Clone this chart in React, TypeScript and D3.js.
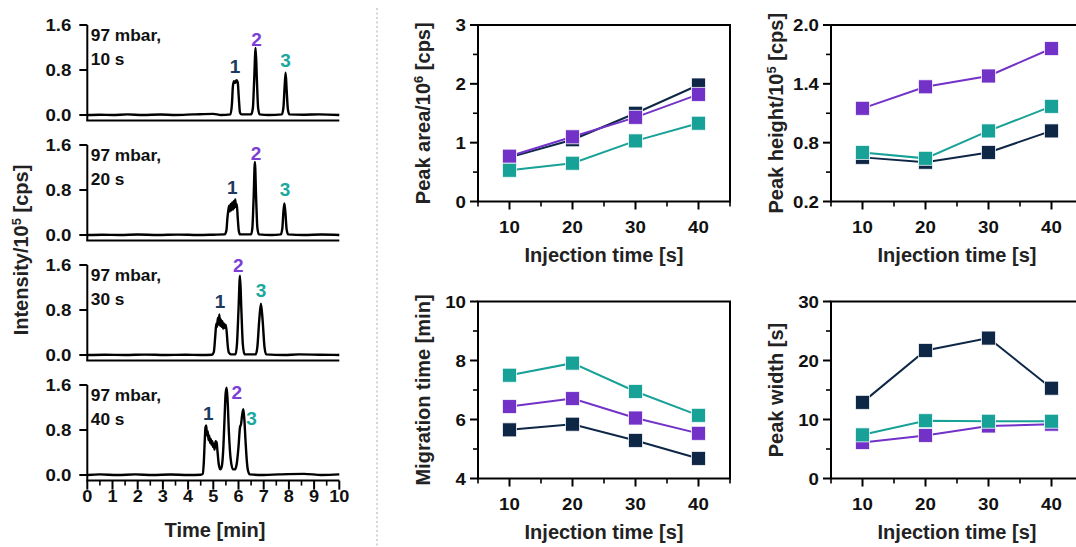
import React from "react";
import * as d3 from "d3";

// ---------- Chromatogram data (time [min], intensity /1e5 cps) ----------
const timeTicks = [0, 1, 2, 3, 4, 5, 6, 7, 8, 9, 10];
const timeMinorTicks = [0.5, 1.5, 2.5, 3.5, 4.5, 5.5, 6.5, 7.5, 8.5, 9.5];
const intensityTicks = [0, 0.8, 1.6];
const intensityTickLabels = ["0.0", "0.8", "1.6"];
const pressureLabel = "97 mbar,";
const injectionLabels = ["10 s", "20 s", "30 s", "40 s"];
const peakNames = ["1", "2", "3"];

const chrom10s: [number, number][] = [
  [0, 0], [0.5, 0.005], [1, 0], [1.6, 0.01], [2.2, 0], [2.9, 0.008], [3.5, 0], [4.2, 0.01],
  [5.0, 0.02], [5.3, 0], [5.68, 0.01], [5.74, 0.2], [5.78, 0.52], [5.82, 0.6], [5.87, 0.57],
  [5.92, 0.62], [5.97, 0.58], [6.01, 0.32], [6.06, 0.04], [6.12, 0.01], [6.5, 0.01],
  [6.57, 0.12], [6.62, 0.6], [6.68, 1.19], [6.73, 0.62], [6.78, 0.12], [6.84, 0.01], [7.2, 0],
  [7.72, 0.01], [7.78, 0.12], [7.83, 0.5], [7.87, 0.75], [7.91, 0.45], [7.96, 0.1],
  [8.02, 0.01], [8.6, 0.005], [9.2, 0.01], [10, 0],
];
const chrom20s: [number, number][] = [
  [0, 0], [0.6, 0.005], [1.3, 0], [2, 0.008], [2.8, 0], [3.6, 0.006], [4.4, 0], [5.0, 0.005],
  [5.45, 0.01], [5.52, 0.08], [5.56, 0.3], [5.6, 0.45], [5.63, 0.52], [5.66, 0.42], [5.69, 0.55],
  [5.72, 0.44], [5.75, 0.58], [5.78, 0.45], [5.81, 0.6], [5.84, 0.48], [5.87, 0.63], [5.9, 0.5],
  [5.93, 0.55], [5.97, 0.3], [6.01, 0.08], [6.06, 0.01], [6.5, 0.01], [6.55, 0.12], [6.6, 0.65],
  [6.65, 1.3], [6.7, 0.65], [6.75, 0.12], [6.81, 0.01], [7.3, 0], [7.68, 0.01], [7.74, 0.12],
  [7.78, 0.4], [7.82, 0.56], [7.86, 0.4], [7.91, 0.1], [7.97, 0.01], [8.6, 0], [9.3, 0.008], [10, 0],
];
const chrom30s: [number, number][] = [
  [0, 0], [0.7, 0.004], [1.5, 0], [2.3, 0.006], [3.1, 0], [3.9, 0.005], [4.5, 0], [4.95, 0.005],
  [5.02, 0.05], [5.08, 0.35], [5.12, 0.56], [5.15, 0.5], [5.18, 0.66], [5.21, 0.54], [5.24, 0.72],
  [5.27, 0.52], [5.3, 0.63], [5.33, 0.5], [5.36, 0.6], [5.39, 0.47], [5.42, 0.56], [5.45, 0.48],
  [5.49, 0.54], [5.53, 0.42], [5.57, 0.18], [5.62, 0.04], [5.7, 0.01], [5.88, 0.01], [5.94, 0.2],
  [6.0, 0.8], [6.06, 1.41], [6.11, 0.85], [6.17, 0.2], [6.24, 0.01], [6.68, 0.01], [6.75, 0.15],
  [6.82, 0.6], [6.89, 0.91], [6.96, 0.6], [7.03, 0.15], [7.1, 0.01], [7.8, 0], [8.4, 0.01],
  [9.2, 0.005], [10, 0],
];
const chrom40s: [number, number][] = [
  [0, 0], [0.5, 0.01], [1.2, 0], [1.9, 0.01], [2.6, 0], [3.3, 0.008], [4.0, 0], [4.5, 0.005],
  [4.58, 0.02], [4.62, 0.2], [4.66, 0.6], [4.69, 0.85], [4.72, 0.88], [4.75, 0.7], [4.78, 0.78],
  [4.81, 0.62], [4.84, 0.7], [4.87, 0.57], [4.9, 0.64], [4.93, 0.54], [4.96, 0.6], [4.99, 0.5],
  [5.02, 0.55], [5.05, 0.45], [5.09, 0.6], [5.13, 0.58], [5.17, 0.4], [5.22, 0.18], [5.28, 0.1],
  [5.34, 0.16], [5.4, 0.5], [5.45, 1.05], [5.49, 1.45], [5.53, 1.55], [5.57, 1.3], [5.62, 0.75],
  [5.69, 0.28], [5.78, 0.1], [5.86, 0.1], [5.93, 0.2], [6.0, 0.5], [6.06, 0.85], [6.1, 0.9],
  [6.14, 1.05], [6.19, 1.17], [6.23, 1.0], [6.28, 0.6], [6.33, 0.25], [6.38, 0.07], [6.45, 0.01],
  [7.0, 0], [7.6, 0.01], [8.6, 0.02], [9.3, 0], [10, 0.01],
];
const peakLabels10s: [number, number][] = [[5.86, 0.75], [6.72, 1.23], [7.87, 0.86]];
const peakLabels20s: [number, number][] = [[5.75, 0.72], [6.7, 1.34], [7.85, 0.69]];
const peakLabels30s: [number, number][] = [[5.27, 0.84], [5.99, 1.48], [6.89, 1.03]];
const peakLabels40s: [number, number][] = [[4.8, 0.97], [5.93, 1.35], [6.52, 0.88]];

// ---------- Summary panels ----------
const injectionTimes = [10, 20, 30, 40];
const injMajorTicks = [10, 20, 30, 40];
const injMinorTicks = [5, 15, 25, 35, 45];

const areaPeak1 = [0.75, 1.05, 1.5, 1.98];
const areaPeak2 = [0.77, 1.1, 1.43, 1.82];
const areaPeak3 = [0.53, 0.65, 1.03, 1.33];
const areaTicks = [0, 1, 2, 3];
const areaTickLabels = ["0", "1", "2", "3"];
const areaMinor = [0.5, 1.5, 2.5];

const heightPeak1 = [0.65, 0.6, 0.7, 0.92];
const heightPeak2 = [1.15, 1.37, 1.48, 1.76];
const heightPeak3 = [0.7, 0.64, 0.92, 1.17];
const heightTicks = [0.2, 0.8, 1.4, 2.0];
const heightTickLabels = ["0.2", "0.8", "1.4", "2.0"];
const heightMinor = [0.5, 1.1, 1.7];

const migPeak1 = [5.65, 5.84, 5.29, 4.68];
const migPeak2 = [6.44, 6.71, 6.05, 5.53];
const migPeak3 = [7.5, 7.91, 6.95, 6.14];
const migTicks = [4, 6, 8, 10];
const migTickLabels = ["4", "6", "8", "10"];
const migMinor = [5, 7, 9];

const widthPeak1 = [12.9, 21.7, 23.8, 15.3];
const widthPeak2 = [6.1, 7.3, 8.9, 9.2];
const widthPeak3 = [7.4, 9.8, 9.7, 9.7];
const widthTicks = [0, 10, 20, 30];
const widthTickLabels = ["0", "10", "20", "30"];
const widthMinor = [5, 15, 25];

const NAVY = "#0e2747";
const PURPLE = "#7232c8";
const TEAL = "#17a197";
const LABEL_COLORS = ["#1c3a5e", "#7b3fd6", "#1aa89d"];
const FONT = "'Liberation Sans', Arial, Helvetica, sans-serif";

function ST({ x, y, size, anchor = "start", sx = 1.2, fill = "#111", dy, children }: any) {
  return (
    <text
      transform={`translate(${x},${y}) scale(${sx},1)`}
      fontSize={size}
      textAnchor={anchor}
      fontWeight="bold"
      fontFamily={FONT}
      fill={fill}
      dy={dy}
    >
      {children}
    </text>
  );
}

const chromX = d3.scaleLinear().domain([0, 10]).range([87.3, 339.3]);

function Chromatogram({ top, data, labels, injection, showX }: any) {
  const y = d3.scaleLinear().domain([-0.1, 1.6]).range([top + 95.6, top]);
  const line = d3
    .line<[number, number]>()
    .x((d) => chromX(d[0]))
    .y((d) => y(d[1]))
    .curve(d3.curveMonotoneX);
  const x0 = chromX(0);
  const x1 = chromX(10);
  const yb = y(-0.1);
  return (
    <g>
      <path d={line(data) || ""} fill="none" stroke="#000" strokeWidth={2.4} strokeLinejoin="round" />
      <line x1={x0} x2={x0} y1={y(1.6)} y2={yb} stroke="#000" strokeWidth={2} />
      <line x1={x0 - 1} x2={x1} y1={yb} y2={yb} stroke="#000" strokeWidth={2} />
      {intensityTicks.map((t, i) => (
        <g key={t}>
          <line x1={x0 - 8} x2={x0} y1={y(t)} y2={y(t)} stroke="#000" strokeWidth={2} />
          <ST x={x0 - 16} y={y(t)} dy="0.36em" size={16.5} anchor="end" sx={1.13}>
            {intensityTickLabels[i]}
          </ST>
        </g>
      ))}
      <ST x={x0 + 3.5} y={top + 16} size={16.5} sx={1.05}>{pressureLabel}</ST>
      <ST x={x0 + 3.5} y={top + 40} size={16.5} sx={1.05}>{injection}</ST>
      {labels.map((p: [number, number], i: number) => (
        <ST key={i} x={chromX(p[0])} y={y(p[1])} size={19} anchor="middle" sx={1} fill={LABEL_COLORS[i]}>
          {peakNames[i]}
        </ST>
      ))}
      {showX && (
        <g>
          {timeTicks.map((t) => (
            <g key={t}>
              <line x1={chromX(t)} x2={chromX(t)} y1={yb} y2={yb + 9} stroke="#000" strokeWidth={2} />
              <ST x={chromX(t)} y={yb + 21} size={16.5} anchor="middle" sx={1.1}>
                {String(t)}
              </ST>
            </g>
          ))}
          {timeMinorTicks.map((t) => (
            <line key={t} x1={chromX(t)} x2={chromX(t)} y1={yb} y2={yb + 5} stroke="#000" strokeWidth={1.6} />
          ))}
        </g>
      )}
    </g>
  );
}

function Panel({ x0, x1, yTop, yBot, yDomain, ticks, tickLabels, minor, series, title, sup }: any) {
  const x = d3.scaleLinear().domain([5, 45]).range([x0, x1]);
  const y = d3.scaleLinear().domain(yDomain).range([yBot, yTop]);
  const line = d3
    .line<number>()
    .x((_, i) => x(injectionTimes[i]))
    .y((d) => y(d));
  const cy = (yTop + yBot) / 2;
  return (
    <g>
      <rect x={x0} y={yTop} width={x1 - x0} height={yBot - yTop} fill="none" stroke="#000" strokeWidth={2} />
      {ticks.map((t: number, i: number) => (
        <g key={t}>
          <line x1={x0 - 8} x2={x0} y1={y(t)} y2={y(t)} stroke="#000" strokeWidth={2} />
          <ST x={x0 - 12} y={y(t)} dy="0.36em" size={17} anchor="end" sx={1.1}>
            {tickLabels[i]}
          </ST>
        </g>
      ))}
      {minor.map((t: number) => (
        <line key={t} x1={x0 - 5} x2={x0} y1={y(t)} y2={y(t)} stroke="#000" strokeWidth={1.6} />
      ))}
      {injMajorTicks.map((t) => (
        <g key={t}>
          <line x1={x(t)} x2={x(t)} y1={yBot} y2={yBot + 8} stroke="#000" strokeWidth={2} />
          <ST x={x(t)} y={yBot + 31.5} size={17} anchor="middle" sx={1.1}>
            {String(t)}
          </ST>
        </g>
      ))}
      {injMinorTicks.map((t) => (
        <line key={t} x1={x(t)} x2={x(t)} y1={yBot} y2={yBot + 5} stroke="#000" strokeWidth={1.6} />
      ))}
      {series.map((s: any, si: number) => (
        <g key={si}>
          <path d={line(s.values) || ""} fill="none" stroke={s.color} strokeWidth={2} />
          {s.values.map((v: number, i: number) => (
            <rect
              key={i}
              x={x(injectionTimes[i]) - 7}
              y={y(v) - 7}
              width={14}
              height={14}
              fill={s.color}
              stroke="rgba(255,255,255,0.75)"
              strokeWidth={1}
            />
          ))}
        </g>
      ))}
      <text
        x={x(25)}
        y={yBot + 60}
        textAnchor="middle"
        fontSize={20}
        fontWeight="bold"
        fontFamily={FONT}
        fill="#222"
      >
        Injection time [s]
      </text>
      <text
        transform={`translate(${x0 - 48},${cy}) rotate(-90)`}
        textAnchor="middle"
        fontSize={20}
        fontWeight="bold"
        fontFamily={FONT}
        fill="#222"
      >
        {sup ? (
          <>
            {title}
            <tspan dy={-7} fontSize={13}>{sup}</tspan>
            <tspan dy={7}> [cps]</tspan>
          </>
        ) : (
          title
        )}
      </text>
    </g>
  );
}

export default function App() {
  const chroms = [
    { data: chrom10s, labels: peakLabels10s },
    { data: chrom20s, labels: peakLabels20s },
    { data: chrom30s, labels: peakLabels30s },
    { data: chrom40s, labels: peakLabels40s },
  ];
  const tops = [25, 145, 265, 385];
  const mk = (a: number[], b: number[], c: number[]) => [
    { values: a, color: NAVY },
    { values: b, color: PURPLE },
    { values: c, color: TEAL },
  ];
  return (
    <svg
      width={1076}
      height={547}
      style={{ position: "absolute", left: 0, top: 0, background: "#fff" }}
    >
      <rect x={0} y={0} width={1076} height={547} fill="#fff" />
      {chroms.map((c, i) => (
        <Chromatogram
          key={i}
          top={tops[i]}
          data={c.data}
          labels={c.labels}
          injection={injectionLabels[i]}
          showX={i === 3}
        />
      ))}
      <text
        transform={`translate(28,250) rotate(-90)`}
        textAnchor="middle"
        fontSize={20}
        fontWeight="bold"
        fontFamily={FONT}
        fill="#222"
      >
        Intensity/10<tspan dy={-7} fontSize={13}>5</tspan>
        <tspan dy={7}> [cps]</tspan>
      </text>
      <text x={215} y={537} textAnchor="middle" fontSize={20} fontWeight="bold" fontFamily={FONT} fill="#222">
        Time [min]
      </text>
      <line x1={377} x2={377} y1={8} y2={547} stroke="#c8c8c8" strokeWidth={1.5} strokeDasharray="2,2.5" />

      <Panel x0={478} x1={730} yTop={25} yBot={201.5} yDomain={[0, 3]} ticks={areaTicks}
        tickLabels={areaTickLabels} minor={areaMinor} series={mk(areaPeak1, areaPeak2, areaPeak3)}
        title="Peak area/10" sup="6" />
      <Panel x0={831} x1={1083} yTop={25} yBot={201.5} yDomain={[0.2, 2.0]} ticks={heightTicks}
        tickLabels={heightTickLabels} minor={heightMinor} series={mk(heightPeak1, heightPeak2, heightPeak3)}
        title="Peak height/10" sup="5" />
      <Panel x0={478} x1={730} yTop={301.5} yBot={478.5} yDomain={[4, 10]} ticks={migTicks}
        tickLabels={migTickLabels} minor={migMinor} series={mk(migPeak1, migPeak2, migPeak3)}
        title="Migration time [min]" />
      <Panel x0={831} x1={1083} yTop={301.5} yBot={478.5} yDomain={[0, 30]} ticks={widthTicks}
        tickLabels={widthTickLabels} minor={widthMinor} series={mk(widthPeak1, widthPeak2, widthPeak3)}
        title="Peak width [s]" />
    </svg>
  );
}
